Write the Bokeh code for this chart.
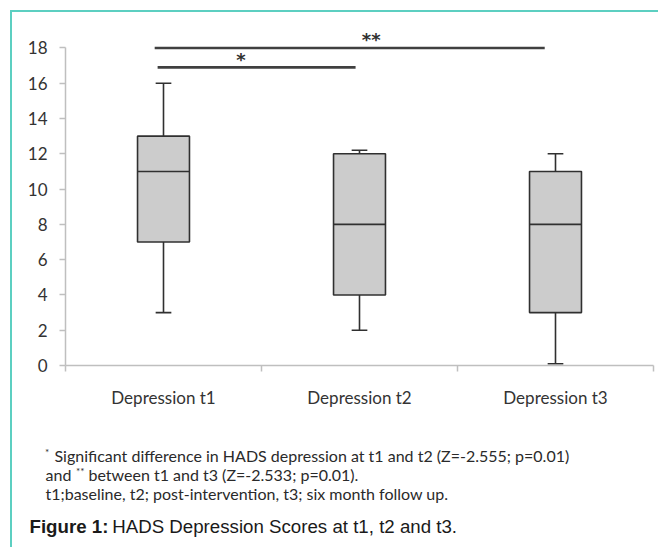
import numpy as np
from bokeh.plotting import figure
from bokeh.layouts import column
from bokeh.models import Range1d, FixedTicker
from bokeh.core.properties import value
from bokeh.embed import file_html
from bokeh.resources import INLINE

# ---- data ----
categories = ["Depression t1", "Depression t2", "Depression t3"]
lower = [3.0, 2.0, 0.1]
q1 = [7.0, 4.0, 3.0]
median = [11.0, 8.0, 8.0]
q3 = [13.0, 12.0, 11.0]
upper = [16.0, 12.2, 12.0]

# significance brackets
comp_start = [0.47, 0.455]
comp_end = [1.48, 2.445]
comp_level = [16.9, 18.0]
comp_label = ["*", "**"]
comp_label_x = [0.895, 1.56]
comp_label_y = [17.37, 18.47]

y_ticks = list(range(0, 19, 2))

footnote1 = "Significant difference in HADS depression at t1 and t2 (Z=-2.555; p=0.01)"
footnote2a = "and"
footnote2b = "between t1 and t3 (Z=-2.533; p=0.01)."
footnote3 = "t1;baseline, t2; post-intervention, t3; six month follow up."
caption_bold = "Figure 1:"
caption_text = "HADS Depression Scores at t1, t2 and t3."

# ---- chart figure ----
W = 646
p = figure(width=W, height=398, output_backend="svg", toolbar_location=None,
           x_range=Range1d(0, 3), y_range=Range1d(0, 19.5),
           min_border_left=53, min_border_right=5, min_border_top=9,
           min_border_bottom=43)
p.outline_line_color = None
p.grid.visible = False
p.frame_align = False

x = np.arange(len(categories)) + 0.5
bw = 0.265
cap = 0.04
edge = "#303030"

p.vbar(x=x, bottom=q1, top=q3, width=bw, fill_color="#cccccc",
       line_color=edge, line_width=1.6)
p.segment(x0=x - bw / 2, x1=x + bw / 2, y0=median, y1=median,
          line_color=edge, line_width=1.6)
p.segment(x0=x, x1=x, y0=q3, y1=upper, line_color=edge, line_width=1.6)
p.segment(x0=x, x1=x, y0=q1, y1=lower, line_color=edge, line_width=1.6)
p.segment(x0=x - cap, x1=x + cap, y0=upper, y1=upper, line_color=edge, line_width=1.6)
p.segment(x0=x - cap, x1=x + cap, y0=lower, y1=lower, line_color=edge, line_width=1.6)

p.segment(x0=comp_start, x1=comp_end, y0=comp_level, y1=comp_level,
          line_color="#404040", line_width=2.6)
p.text(x=comp_label_x, y=comp_label_y, text=comp_label, text_align="center",
       text_baseline="middle", text_font=value("DejaVu Sans"),
       text_font_size="18px", text_color="#303030", text_font_style="bold")

grey = "#bfbfbf"
lab = "#333333"
ya = p.yaxis[0]
ya.ticker = FixedTicker(ticks=y_ticks)
ya.bounds = (0, 18)
ya.axis_line_color = grey
ya.axis_line_width = 1.5
ya.major_tick_line_color = grey
ya.major_tick_line_width = 1.5
ya.major_tick_out = 6
ya.major_tick_in = 0
ya.minor_tick_line_color = None
ya.major_label_standoff = 12
ya.major_label_text_font = "Lato"
ya.major_label_text_font_size = "17px"
ya.major_label_text_color = lab

xa = p.xaxis[0]
xa.ticker = FixedTicker(ticks=list(x), minor_ticks=list(range(len(categories) + 1)))
xa.major_label_overrides = {float(v): c for v, c in zip(x, categories)}
xa.axis_line_color = grey
xa.axis_line_width = 1.5
xa.major_tick_line_color = None
xa.major_tick_out = 0
xa.major_tick_in = 0
xa.minor_tick_line_color = grey
xa.minor_tick_line_width = 1.5
xa.minor_tick_out = 6
xa.minor_tick_in = 0
xa.major_label_standoff = 15
xa.major_label_text_font = "Lato"
xa.major_label_text_font_size = "17px"
xa.major_label_text_color = lab

# ---- text figure (pixel coordinates, y downward) ----
H2 = 137
t = figure(width=W, height=H2, output_backend="svg", toolbar_location=None,
           x_range=Range1d(0, W), y_range=Range1d(H2, 0),
           x_axis_location=None, y_axis_location=None,
           min_border=0, min_border_left=0, min_border_right=0,
           min_border_top=0, min_border_bottom=0)
t.outline_line_color = None
t.grid.visible = False
t.frame_align = False

fn_col = "#2a2a2a"
def txt(xx, yy, s, size="16px", font="Lato", style="normal", col=fn_col):
    t.text(x=[xx], y=[yy], text=[s], text_font=value(font), text_font_size=size,
           text_font_style=style, text_color=col, text_baseline="alphabetic",
           text_align="left")

txt(32.5, 41, "*", size="10px")
txt(42, 45.3, footnote1)
txt(33, 64.3, footnote2a)
txt(63.5, 60.5, "**", size="10px")
txt(76, 64.3, footnote2b)
txt(33, 82.6, footnote3)
txt(17, 116, caption_bold, size="18.7px", font="Liberation Sans", style="bold", col="#1a1a1a")
txt(99.7, 116, caption_text, size="18.7px", font="Liberation Sans", col="#1a1a1a")

teal = "#5ccfc1"
layout = column(p, t, styles={"margin-left": "10px", "margin-top": "10px",
                              "border-left": f"2px solid {teal}",
                              "border-top": f"2px solid {teal}"})

open("out.html", "w").write(file_html(layout, INLINE))
